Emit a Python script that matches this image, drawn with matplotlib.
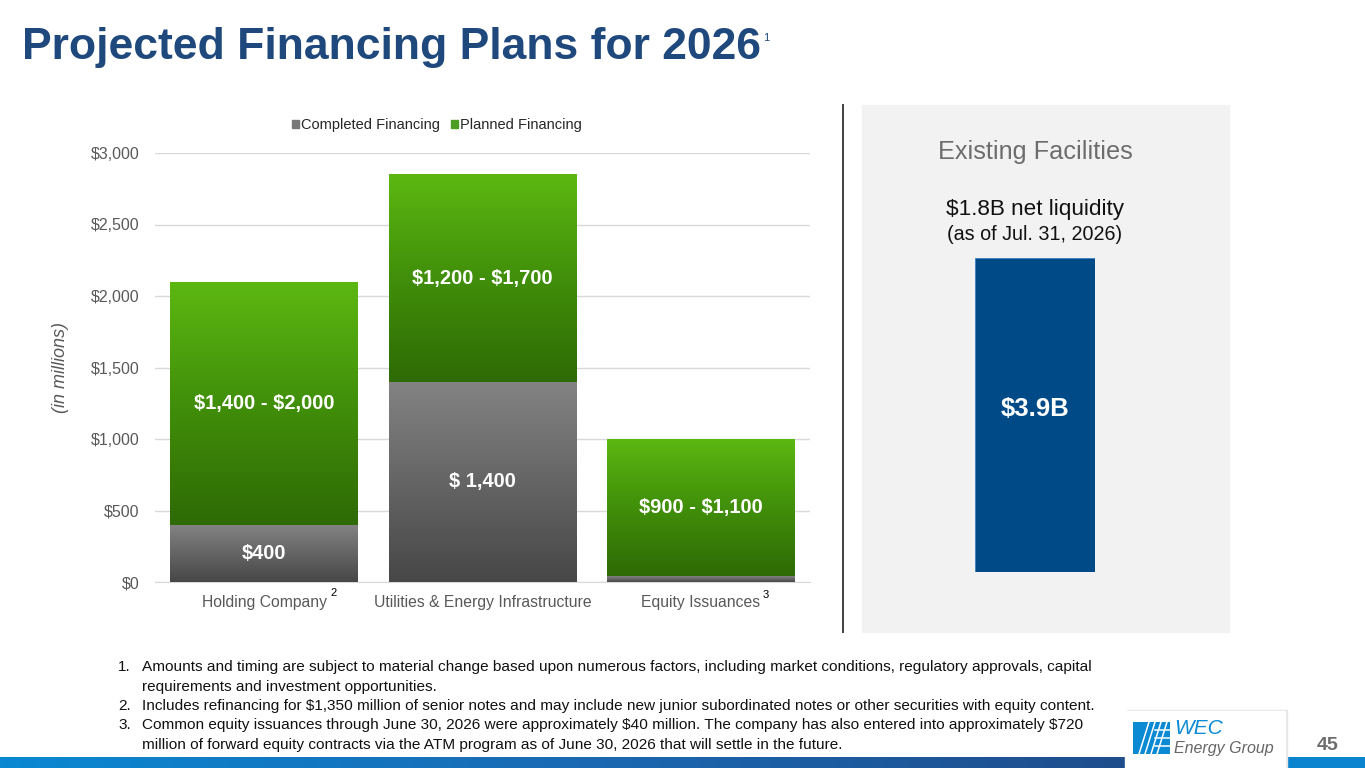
import matplotlib.pyplot as plt
import numpy as np
from matplotlib.colors import LinearSegmentedColormap
from matplotlib.patches import Rectangle
from matplotlib.lines import Line2D

plt.rcParams['font.family'] = ['Liberation Sans', 'DejaVu Sans']
plt.rcParams['text.parse_math'] = False

# data
categories = ["Holding Company", "Utilities & Energy Infrastructure", "Equity Issuances"]
cat_notes = ["2", "", "3"]
completed = [400, 1400, 40]
planned = [1700, 1450, 960]
completed_labels = ["$400", "$ 1,400", ""]
planned_labels = ["$1,400 - $2,000", "$1,200 - $1,700", "$900 - $1,100"]
yticks = [0, 500, 1000, 1500, 2000, 2500, 3000]
liquidity = 3.9
liquidity_label = "$3.9B"

footnotes = [
    ("1.", "Amounts and timing are subject to material change based upon numerous factors, including market conditions, regulatory approvals, capital\nrequirements and investment opportunities."),
    ("2.", "Includes refinancing for $1,350 million of senior notes and may include new junior subordinated notes or other securities with equity content."),
    ("3.", "Common equity issuances through June 30, 2026 were approximately $40 million. The company has also entered into approximately $720\nmillion of forward equity contracts via the ATM program as of June 30, 2026 that will settle in the future."),
]

W, H = 1365, 768
fig = plt.figure(figsize=(W / 100, H / 100), dpi=100)
fig.patch.set_facecolor("white")


def fx(px):
    return px / W


def fy(py):
    return 1 - py / H


# bottom stripe
stripe = fig.add_axes([0, 0, 1, 11 / H])
stripe.axis("off")
grad = np.linspace(0, 1, 256).reshape(1, -1)
stripe_cmap = LinearSegmentedColormap.from_list("s", ["#0a88d2", "#1a6ab4", "#1f4d8c"])
stripe.imshow(grad, aspect="auto", cmap=stripe_cmap, extent=(0, 1125, 0, 1))
stripe.add_patch(Rectangle((1285, 0), 80, 1, color="#0a84cf"))
stripe.set_xlim(0, W)
stripe.set_ylim(0, 1)

# title
fig.text(fx(22), fy(48), "Projected Financing Plans for 2026", fontsize=32, fontweight="bold",
         color="#1f497d", va="center", ha="left")
fig.text(fx(763), fy(38), "1", fontsize=8, color="#1f497d", va="center", ha="left")

# main chart
ax = fig.add_axes([fx(155), 186 / H, 655 / W, 429 / H])
x = np.arange(len(categories))
bw = 0.86
green_cmap = LinearSegmentedColormap.from_list("g", ["#2e6a05", "#418f0a", "#5cb811"])
gray_cmap = LinearSegmentedColormap.from_list("k", ["#474747", "#656565", "#838383"])

bars_c = ax.bar(x, completed, bw, color="#666666", zorder=2)
bars_p = ax.bar(x, planned, bw, bottom=completed, color="#4a9a0c", zorder=2)

# vertical gradient fill, clipped to each bar segment
vgrad = np.linspace(0, 1, 256).reshape(-1, 1)
for bars, cmap in [(bars_c, gray_cmap), (bars_p, green_cmap)]:
    for b in bars:
        x0, y0 = b.get_x(), b.get_y()
        im = ax.imshow(vgrad, cmap=cmap, origin="lower", aspect="auto",
                       extent=(x0, x0 + b.get_width(), y0, y0 + b.get_height()), zorder=3)
        im.set_clip_path(b)

for i in range(len(categories)):
    if completed_labels[i]:
        ax.text(x[i], completed[i] / 2, completed_labels[i], ha="center", va="center",
                color="white", fontsize=14.5, fontweight="bold", zorder=5)
    ax.text(x[i], completed[i] + planned[i] / 2, planned_labels[i], ha="center", va="center",
            color="white", fontsize=14.5, fontweight="bold", zorder=5)

ax.set_xlim(-0.5, 2.5)
ax.set_ylim(0, 3000)
ax.set_yticks(yticks)
ax.set_yticklabels([f"${v:,}" for v in yticks], fontsize=11.5, color="#595959")
ax.set_xticks(x)
ax.set_xticklabels(categories, fontsize=11.3, color="#595959")
ax.tick_params(axis="y", length=0, pad=11)
ax.tick_params(axis="x", length=0, pad=9)
ax.grid(axis="y", color="#d9d9d9", lw=1, zorder=0)
ax.set_axisbelow(True)
for s in ["top", "right", "left"]:
    ax.spines[s].set_visible(False)
ax.spines["bottom"].set_color("#d9d9d9")
ax.set_ylabel("(in millions)", fontsize=13, style="italic", color="#595959", labelpad=16)

# superscripts on category labels
fig.text(fx(334), fy(593), cat_notes[0], fontsize=8, color="#000000", ha="center", va="center")
fig.text(fx(766), fy(595), cat_notes[2], fontsize=8, color="#000000", ha="center", va="center")

handles = [Rectangle((0, 0), 1, 1, color="#777777"), Rectangle((0, 0), 1, 1, color="#4c9e22")]
fig.legend(handles, ["Completed Financing", "Planned Financing"], loc="center",
           bbox_to_anchor=(fx(437), fy(125)), ncol=2, frameon=False, fontsize=10.5,
           handlelength=0.45, handleheight=0.45, handletextpad=0.15, columnspacing=0.8,
           labelcolor="#262626")

# separator line
fig.add_artist(Line2D([fx(843), fx(843)], [fy(105), fy(632)], color="#404040", lw=1.4))

# right panel
fig.add_artist(Rectangle((fx(862), fy(632)), 367 / W, 527 / H, color="#f2f2f2", zorder=0))
fig.text(fx(1035), fy(152), "Existing Facilities", fontsize=18.2, color="#6d6d6d", ha="center", va="center")
fig.text(fx(1035), fy(210), "$1.8B net liquidity", fontsize=16.2, color="#111111", ha="center", va="center")
fig.text(fx(1035), fy(234), "(as of Jul. 31, 2026)", fontsize=14.2, color="#111111", ha="center", va="center")

bx = fig.add_axes([fx(975), 196 / H, 120 / W, 314 / H])
bx.bar([0], [liquidity], 1, color="#004b87", edgecolor="#3a7fc0", lw=0.6)
bx.set_xlim(-0.5, 0.5)
bx.set_ylim(0, liquidity)
bx.axis("off")
bx.text(0, liquidity * 0.52, liquidity_label, ha="center", va="center", color="white",
        fontsize=18.5, fontweight="bold")

# footnotes
ys = [[667, 687], [706], [725, 745]]
for (num, txt), yy in zip(footnotes, ys):
    fig.text(fx(118), fy(yy[0]), num, fontsize=11.1, color="#111111", ha="left", va="center")
    for line, ypix in zip(txt.split("\n"), yy):
        fig.text(fx(142), fy(ypix), line, fontsize=11.1, color="#111111", ha="left", va="center")

# logo box
fig.add_artist(Rectangle((fx(1127), 0), 160 / W, 58 / H, color="#e6e6e6", zorder=1))
fig.add_artist(Rectangle((fx(1125), 0), 160 / W, 57 / H, color="white", zorder=2))
lg = fig.add_axes([fx(1133), fy(754), 37 / W, 32 / H], zorder=3)
lg.set_xlim(0, 37)
lg.set_ylim(0, 32)
lg.axis("off")
lg.add_patch(Rectangle((0, 0), 37, 32, color="#0a8ad2"))
for k in range(4):
    off = k * 6
    lg.plot([6 + off, 16 + off], [0, 32], color="white", lw=1.1)
for k in range(3):
    lg.plot([22, 37], [8 + k * 8, 8 + k * 8], color="white", lw=1.1)
fig.text(fx(1174), fy(729), "WEC", fontsize=15, style="italic", color="#0a8ad2", ha="left", va="center",
         zorder=4)
fig.text(fx(1174), fy(748), "Energy Group", fontsize=11.5, style="italic", color="#666666", ha="left",
         va="center", zorder=4)
fig.text(fx(1328), fy(745), "45", fontsize=14, fontweight="bold", color="#6d6d6d", ha="center", va="center")

fig.savefig("out.png", dpi=100)
